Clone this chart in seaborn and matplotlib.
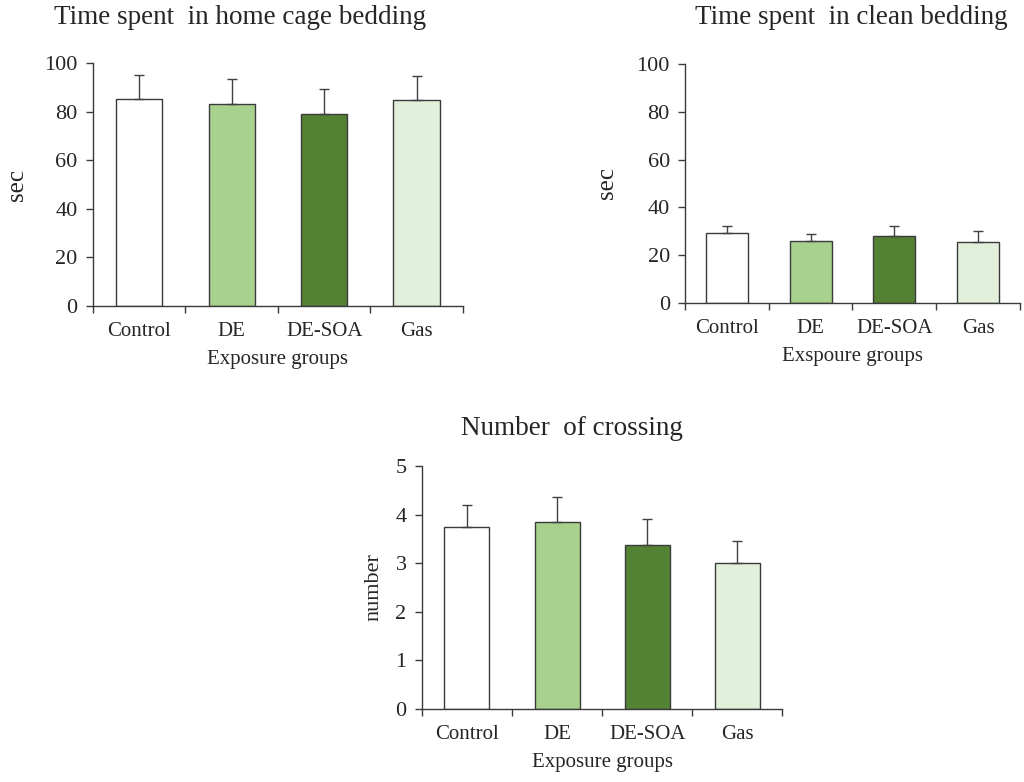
import matplotlib
matplotlib.use("Agg")
import matplotlib.pyplot as plt
import seaborn as sns
import numpy as np

sns.set_theme(style="ticks")
plt.rcParams['font.family'] = ['Liberation Serif', 'DejaVu Serif']

# data
groups = ["Control", "DE", "DE-SOA", "Gas"]
home_mean = [85.2, 83.4, 79.3, 85.0]
home_err = [10.1, 10.3, 10.1, 9.8]
clean_mean = [29.1, 25.9, 27.9, 25.4]
clean_err = [3.2, 2.7, 4.4, 4.5]
cross_mean = [3.74, 3.86, 3.37, 3.00]
cross_err = [0.46, 0.50, 0.54, 0.46]

colors = ["#ffffff", "#a9d18e", "#548235", "#e2efda"]
edge = "#3a3a3a"

fig = plt.figure(figsize=(10.24, 7.82), dpi=100)
ax1 = fig.add_axes([0.0908, 0.609, 0.3612, 0.310])
ax2 = fig.add_axes([0.669, 0.613, 0.327, 0.305])
ax3 = fig.add_axes([0.412, 0.0937, 0.352, 0.310])


def draw(ax, means, errs, ymax, yticks, ylabel, xlabel, ysize, ypad):
    sns.barplot(x=groups, y=means, hue=groups, palette=colors, legend=False,
                saturation=1, width=0.5, edgecolor=edge, linewidth=1.0, ax=ax)
    ax.errorbar(np.arange(len(groups)), means, yerr=[np.zeros(len(errs)), errs],
                fmt="none", ecolor="#404040", elinewidth=1.0, capsize=3.6,
                capthick=1.0)
    ax.set_xlim(-0.5, len(groups) - 0.5)
    ax.set_ylim(0, ymax)
    ax.set_yticks(yticks)
    ax.set_xticks(np.arange(-0.5, len(groups)), minor=True)
    ax.tick_params(axis="x", which="major", length=0, pad=12, labelsize=15)
    ax.tick_params(axis="x", which="minor", length=5, width=1, color=edge)
    ax.tick_params(axis="y", length=5, width=1, color=edge, pad=6, labelsize=16)
    for s in ["top", "right"]:
        ax.spines[s].set_visible(False)
    for s in ["left", "bottom"]:
        ax.spines[s].set_color(edge)
        ax.spines[s].set_linewidth(1.0)
    ax.set_facecolor("white")
    ax.set_ylabel(ylabel, fontsize=ysize, labelpad=ypad)
    ax.set_xlabel(xlabel, fontsize=15, labelpad=6)


draw(ax1, home_mean, home_err, 100, [0, 20, 40, 60, 80, 100], "sec", "Exposure groups", 18, 12)
draw(ax2, clean_mean, clean_err, 100, [0, 20, 40, 60, 80, 100], "sec", "Exspoure groups", 18, 13)
draw(ax3, cross_mean, cross_err, 5, [0, 1, 2, 3, 4, 5], "number", "Exposure groups", 16, 9)

fig.text(0.234, 0.977, "Time spent  in home cage bedding", ha="center", va="center", fontsize=19.5)
fig.text(0.831, 0.977, "Time spent  in clean bedding", ha="center", va="center", fontsize=19.5)
fig.text(0.559, 0.452, "Number  of crossing", ha="center", va="center", fontsize=19.5)

fig.savefig("out.png", dpi=100, facecolor="white")
